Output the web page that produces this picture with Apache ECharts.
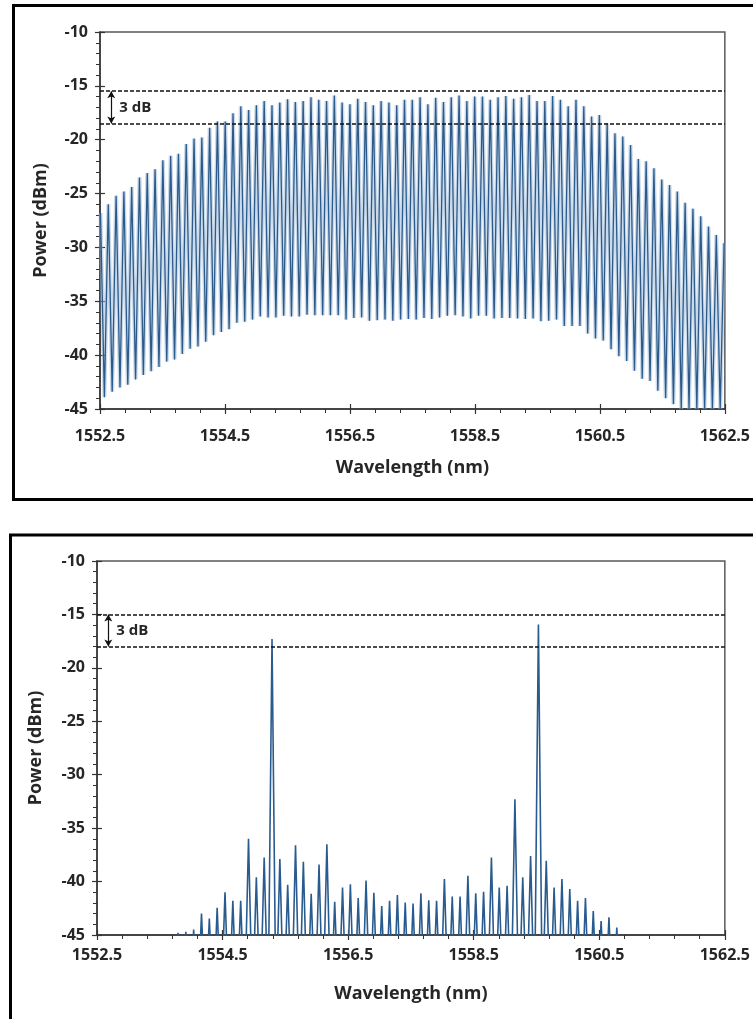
<!DOCTYPE html>
<html>
<head>
<meta charset="utf-8">
<script src="https://cdn.jsdelivr.net/npm/echarts@6/dist/echarts.min.js"></script>
<style>
html, body { margin: 0; padding: 0; background: #fff; }
#chart { width: 753px; height: 1019px; }
</style>
</head>
<body>
<div id="chart"></div>
<script>
// top panel: comb lines, peak power and the dips between them (dBm)
var topStart = 1552.508, topStep = 0.12475;
var topPeaks = [-26.8, -26.0, -25.2, -24.8, -24.4, -23.5, -23.1, -22.75, -21.9, -21.5,
    -21.3, -20.4, -19.9, -19.8, -18.9, -18.3, -18.3, -17.55, -16.9, -17.25,
    -16.8, -16.4, -16.8, -16.55, -16.25, -16.5, -16.4, -16.05, -16.3, -16.4,
    -15.9, -16.55, -16.7, -16.2, -16.5, -16.8, -16.4, -16.55, -16.8, -16.3,
    -16.3, -16.05, -16.7, -16.1, -16.5, -16.05, -15.9, -16.4, -16.0, -16.0,
    -16.3, -16.05, -15.95, -16.2, -16.05, -15.85, -16.4, -16.4, -15.95, -16.3,
    -16.9, -16.3, -16.9, -17.85, -17.7, -18.5, -19.4, -19.7, -20.5, -21.8,
    -22.0, -22.65, -23.7, -24.2, -24.8, -25.85, -26.4, -27.1, -28.05, -28.85, -29.6];
var topValleys = [-43.9, -43.4, -43.0, -42.75, -42.25, -41.85, -41.5, -41.1, -40.6, -40.4,
    -39.9, -39.4, -39.2, -38.75, -38.15, -37.85, -37.6, -37.0, -36.9, -36.7,
    -36.4, -36.5, -36.5, -36.35, -36.4, -36.4, -36.25, -36.3, -36.3, -36.3,
    -36.3, -36.7, -36.55, -36.5, -36.8, -36.75, -36.7, -36.8, -36.7, -36.65,
    -36.7, -36.55, -36.65, -36.5, -36.35, -36.3, -36.4, -36.6, -36.35, -36.35,
    -36.6, -36.55, -36.55, -36.6, -36.65, -36.6, -36.85, -36.8, -36.7, -37.3,
    -37.3, -37.3, -38.0, -38.45, -38.65, -39.45, -40.1, -40.55, -41.45, -42.2,
    -42.4, -43.3, -44.0, -44.55, -45, -45, -45, -45, -45, -45];
var topRef = [-15.5, -18.5];

// bottom panel: two strong lines, the rest sits near the floor
var botStart = 1553.79, botStep = 0.1248;
var botPeaks = [-44.8, -44.7, -44.5, -43.0, -43.45, -42.45, -41.0, -41.8, -41.8, -36.0,
    -39.6, -37.75, -17.3, -37.9, -40.3, -36.6, -38.15, -41.15, -38.4, -36.5,
    -41.9, -40.55, -40.25, -41.55, -39.9, -41.05, -42.3, -41.8, -41.25, -41.95,
    -42.05, -41.1, -41.75, -41.8, -39.75, -41.4, -41.4, -39.45, -41.1, -40.95,
    -37.75, -40.55, -40.4, -32.3, -39.6, -37.6, -15.95, -38.05, -40.55, -39.75,
    -40.7, -41.8, -41.55, -42.75, -43.7, -43.35, -44.3];
var botFloor = -52;   // below the axis, only the clipped flanks show
var botRef = [-15, -18];

var xTicks = [1552.5, 1562.5, 2];   // min, max, step
var yTicks = [-45, -10, 5];
var arrowX = 1552.68;

function topLine() {
    var d = [];
    for (var i = 0; i < topPeaks.length; i++) {
        d.push([topStart + i * topStep, topPeaks[i]]);
        if (i < topValleys.length) d.push([topStart + (i + 0.5) * topStep, topValleys[i]]);
    }
    return d;
}
function botLine() {
    var d = [];
    for (var j = 0; j < botPeaks.length; j++) {
        d.push([botStart + (j - 0.5) * botStep, botFloor]);
        d.push([botStart + j * botStep, botPeaks[j]]);
    }
    d.push([botStart + (botPeaks.length - 0.5) * botStep, botFloor]);
    return d;
}

var font = 'Open Sans';
var txt = '#262626';
var tickCol = '#333';

function xAx(grid, inner, margin) {
    var a = {
        type: 'value', gridIndex: grid, position: 'bottom', offset: 0,
        min: xTicks[0], max: xTicks[1], interval: xTicks[2],
        splitLine: { show: false }
    };
    if (inner) {
        a.axisLine = { show: false };
        a.axisLabel = { show: false };
        a.axisTick = { inside: true, length: 5, lineStyle: { color: tickCol, width: 1.2 } };
        return a;
    }
    a.name = 'Wavelength (nm)';
    a.nameLocation = 'middle';
    a.nameGap = 50;
    a.nameTextStyle = { fontFamily: font, fontWeight: 'bold', fontSize: 18, color: txt };
    a.axisLine = { lineStyle: { color: tickCol, width: 1.5 } };
    a.axisTick = { length: 5, lineStyle: { color: tickCol, width: 1.2 } };
    a.minorTick = { show: true, splitNumber: 5, length: 4, lineStyle: { color: tickCol, width: 1 } };
    a.axisLabel = {
        margin: margin, fontFamily: font, fontWeight: 'bold', fontSize: 16, color: txt,
        formatter: function (v) { return v.toFixed(1); }
    };
    return a;
}
function yAx(grid, inner, gap) {
    var a = {
        type: 'value', gridIndex: grid, position: 'left', offset: 0,
        min: yTicks[0], max: yTicks[1], interval: yTicks[2],
        splitLine: { show: false }
    };
    if (inner) {
        a.axisLine = { show: false };
        a.axisLabel = { show: false };
        a.axisTick = { inside: true, length: 5, lineStyle: { color: tickCol, width: 1.2 } };
        return a;
    }
    a.name = 'Power (dBm)';
    a.nameLocation = 'middle';
    a.nameGap = gap;
    a.nameTextStyle = { fontFamily: font, fontWeight: 'bold', fontSize: 18, color: txt };
    a.axisLine = { lineStyle: { color: tickCol, width: 1.5 } };
    a.axisTick = { length: 5, lineStyle: { color: tickCol, width: 1.2 } };
    a.minorTick = { show: true, splitNumber: 5, length: 4, lineStyle: { color: tickCol, width: 1 } };
    a.axisLabel = { margin: 12, fontFamily: font, fontWeight: 'bold', fontSize: 16, color: txt };
    return a;
}

function marks(ref) {
    var mid = (ref[0] + ref[1]) / 2;
    var dash = { type: [4, 2], color: '#111', width: 1.6 };
    return {
        markLine: {
            silent: true, animation: false,
            symbol: ['none', 'none'],
            label: { show: false },
            data: [
                { yAxis: ref[0], lineStyle: dash },
                { yAxis: ref[1], lineStyle: dash },
                [
                    { coord: [arrowX, ref[0]], symbol: 'arrow', symbolSize: [6, 7] },
                    { coord: [arrowX, ref[1]], symbol: 'arrow', symbolSize: [6, 7],
                      lineStyle: { type: 'solid', color: '#111', width: 1.2 } }
                ]
            ]
        },
        markPoint: {
            silent: true, animation: false,
            data: [{
                coord: [arrowX, mid], symbol: 'rect', symbolSize: 0,
                label: {
                    show: true, position: 'right', distance: 8, formatter: '3 dB',
                    fontFamily: font, fontWeight: 'bold', fontSize: 15, color: txt
                }
            }]
        }
    };
}

var chart = echarts.init(document.getElementById('chart'));
var topData = topLine();
// pale halo under the comb, then the trace itself
var s0 = {
    type: 'line', xAxisIndex: 0, yAxisIndex: 0, data: topData,
    symbol: 'none', clip: true, animation: false, silent: true,
    lineStyle: { color: 'rgba(150,182,214,0.5)', width: 4 }
};
var s1 = {
    type: 'line', xAxisIndex: 0, yAxisIndex: 0, data: topData,
    symbol: 'none', clip: true, animation: false,
    lineStyle: { color: '#2c5a8a', width: 1.3 }
};
Object.assign(s1, marks(topRef));
var s2 = {
    type: 'line', xAxisIndex: 2, yAxisIndex: 2, data: botLine(),
    symbol: 'none', clip: true, animation: false,
    lineStyle: { color: '#2a5b8e', width: 1.6 }
};
Object.assign(s2, marks(botRef));

chart.setOption({
    backgroundColor: '#fff',
    animation: false,
    grid: [
        { left: 100, top: 32, width: 625, height: 377, show: true, borderColor: '#5a5a5a', borderWidth: 1.5 },
        { left: 97, top: 561, width: 630, height: 374, show: true, borderColor: '#5a5a5a', borderWidth: 1.5 }
    ],
    xAxis: [xAx(0, false, 19), xAx(0, true), xAx(1, false, 12), xAx(1, true)],
    yAxis: [yAx(0, false, 50), yAx(0, true), yAx(1, false, 52), yAx(1, true)],
    series: [s0, s1, s2],
    graphic: [
        { type: 'rect', silent: true, z: 100, shape: { x: 13.5, y: 5.5, width: 800, height: 494 },
          style: { fill: 'none', stroke: '#000', lineWidth: 3 } },
        { type: 'rect', silent: true, z: 100, shape: { x: 10.5, y: 535, width: 800, height: 600 },
          style: { fill: 'none', stroke: '#000', lineWidth: 3 } }
    ]
});
</script>
</body>
</html>
